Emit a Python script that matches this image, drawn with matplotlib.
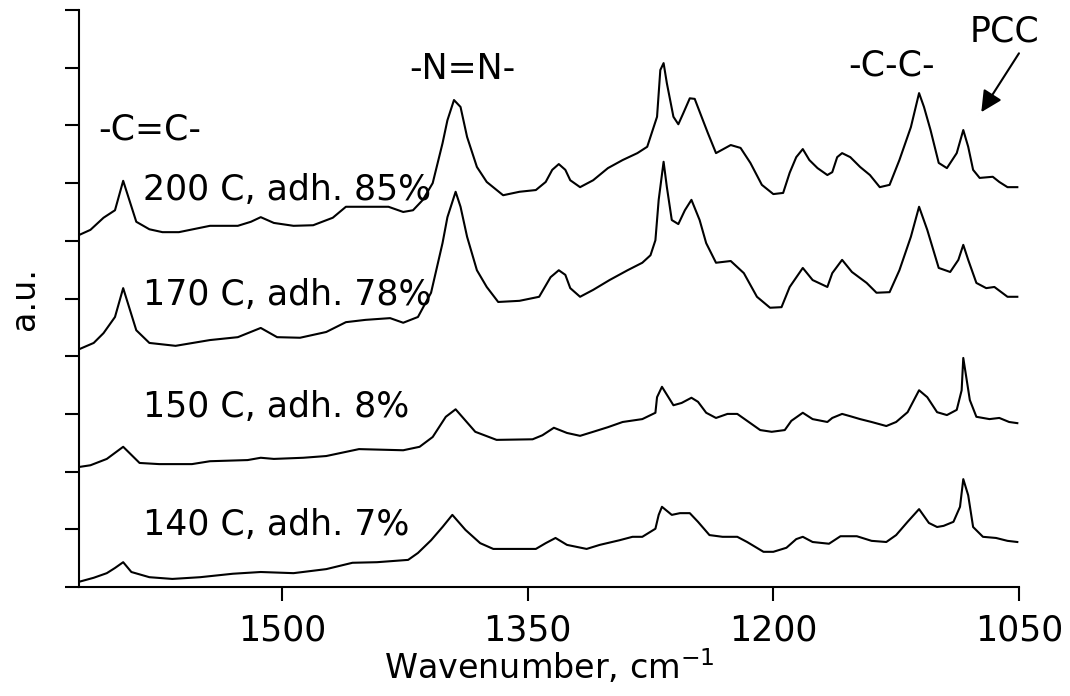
import matplotlib
matplotlib.use("Agg")
import matplotlib.pyplot as plt

plt.rcParams['font.family'] = ['DejaVu Sans']

# Spectra (wavenumber in cm-1, intensity in a.u. with offsets)
wn_200 = [1624, 1617, 1609, 1602, 1597, 1589, 1581, 1573, 1563, 1544, 1527, 1519, 1513, 1505,
          1493, 1481, 1469, 1461, 1449, 1435, 1426, 1420, 1414, 1408, 1402, 1399, 1395, 1391,
          1387, 1381, 1375, 1365, 1355, 1345, 1339, 1335, 1331, 1327, 1324, 1318, 1310, 1301,
          1292, 1283, 1277, 1271, 1269, 1267, 1265, 1261, 1258, 1255, 1251, 1248, 1243, 1240,
          1235, 1226, 1220, 1214, 1207, 1200, 1194, 1190, 1186, 1182, 1178, 1173, 1167, 1164,
          1161, 1158, 1153, 1147, 1141, 1135, 1129, 1123, 1116, 1111, 1108, 1104, 1099, 1094,
          1088, 1084, 1081, 1078, 1074, 1066, 1062, 1057, 1051]
int_200 = [6.10, 6.19, 6.40, 6.53, 7.04, 6.33, 6.20, 6.15, 6.15, 6.26, 6.26, 6.33, 6.41, 6.31,
           6.26, 6.27, 6.40, 6.59, 6.59, 6.59, 6.50, 6.53, 6.71, 7.00, 7.69, 8.09, 8.44, 8.32,
           7.80, 7.28, 7.02, 6.79, 6.85, 6.88, 7.02, 7.23, 7.33, 7.23, 7.05, 6.93, 7.05, 7.26,
           7.40, 7.52, 7.63, 8.15, 8.96, 9.08, 8.73, 8.15, 8.02, 8.21, 8.47, 8.46, 8.09, 7.87,
           7.52, 7.66, 7.61, 7.35, 6.97, 6.81, 6.83, 7.18, 7.45, 7.59, 7.40, 7.26, 7.14, 7.19,
           7.45, 7.52, 7.45, 7.28, 7.14, 6.93, 6.97, 7.40, 7.97, 8.56, 8.32, 7.92, 7.35, 7.26,
           7.52, 7.92, 7.63, 7.23, 7.09, 7.11, 7.02, 6.93, 6.93]

wn_170 = [1624, 1615, 1609, 1602, 1597, 1589, 1581, 1565, 1544, 1527, 1513, 1503, 1489, 1473,
          1461, 1449, 1434, 1426, 1417, 1409, 1402, 1399, 1394, 1391, 1387, 1381, 1375, 1368,
          1355, 1343, 1336, 1331, 1327, 1324, 1318, 1310, 1300, 1289, 1280, 1275, 1272, 1270,
          1267, 1265, 1262, 1258, 1254, 1250, 1245, 1241, 1235, 1226, 1218, 1210, 1202, 1195,
          1190, 1182, 1176, 1167, 1164, 1158, 1152, 1143, 1137, 1129, 1123, 1116, 1111, 1106,
          1099, 1092, 1087, 1084, 1081, 1076, 1070, 1065, 1057, 1051]
int_170 = [4.12, 4.23, 4.40, 4.68, 5.18, 4.45, 4.23, 4.18, 4.28, 4.33, 4.49, 4.33, 4.32, 4.42,
           4.59, 4.63, 4.66, 4.58, 4.68, 5.10, 5.96, 6.41, 6.85, 6.59, 6.07, 5.49, 5.20, 4.94,
           4.96, 5.03, 5.37, 5.49, 5.41, 5.18, 5.03, 5.15, 5.32, 5.49, 5.62, 5.75, 6.01, 6.71,
           7.37, 6.93, 6.36, 6.29, 6.53, 6.71, 6.36, 5.96, 5.62, 5.65, 5.44, 5.03, 4.84, 4.85,
           5.20, 5.53, 5.32, 5.20, 5.44, 5.67, 5.46, 5.27, 5.10, 5.11, 5.49, 6.07, 6.59, 6.19,
           5.53, 5.46, 5.67, 5.93, 5.67, 5.27, 5.18, 5.20, 5.03, 5.03]

wn_150 = [1624, 1617, 1607, 1597, 1587, 1575, 1555, 1544, 1521, 1513, 1505, 1487, 1473, 1453,
          1426, 1416, 1408, 1400, 1394, 1390, 1382, 1369, 1347, 1341, 1334, 1326, 1318, 1310,
          1301, 1292, 1280, 1272, 1271, 1268, 1261, 1256, 1250, 1246, 1241, 1235, 1228, 1222,
          1215, 1208, 1201, 1193, 1189, 1182, 1176, 1167, 1164, 1158, 1153, 1147, 1140, 1131,
          1125, 1118, 1111, 1106, 1100, 1094, 1088, 1085, 1084, 1080, 1076, 1068, 1062, 1056, 1051]
int_150 = [2.08, 2.11, 2.22, 2.43, 2.15, 2.13, 2.13, 2.18, 2.20, 2.24, 2.22, 2.24, 2.27, 2.39,
           2.37, 2.43, 2.60, 2.95, 3.08, 2.95, 2.69, 2.55, 2.56, 2.63, 2.76, 2.67, 2.62, 2.69,
           2.77, 2.86, 2.91, 3.02, 3.29, 3.47, 3.15, 3.19, 3.28, 3.21, 3.02, 2.93, 3.00, 3.00,
           2.86, 2.72, 2.69, 2.72, 2.88, 3.02, 2.91, 2.86, 2.93, 3.00, 2.96, 2.91, 2.86, 2.79,
           2.86, 3.03, 3.41, 3.29, 3.03, 2.98, 3.07, 3.41, 3.97, 3.24, 2.95, 2.91, 2.93, 2.86, 2.84]

wn_140 = [1624, 1615, 1607, 1602, 1597, 1592, 1581, 1567, 1550, 1530, 1513, 1493, 1473, 1457,
          1442, 1423, 1417, 1409, 1402, 1396, 1388, 1379, 1371, 1345, 1339, 1333, 1326, 1314,
          1306, 1294, 1286, 1280, 1272, 1270, 1268, 1262, 1257, 1251, 1246, 1239, 1231, 1222,
          1216, 1206, 1200, 1192, 1186, 1182, 1176, 1166, 1159, 1149, 1140, 1131, 1125, 1118,
          1111, 1105, 1100, 1096, 1090, 1086, 1084, 1081, 1078, 1072, 1064, 1057, 1051]
int_140 = [0.09, 0.16, 0.24, 0.33, 0.43, 0.26, 0.17, 0.14, 0.17, 0.23, 0.26, 0.24, 0.31, 0.42,
           0.43, 0.47, 0.59, 0.81, 1.04, 1.25, 0.99, 0.76, 0.66, 0.66, 0.76, 0.85, 0.73, 0.66,
           0.73, 0.81, 0.87, 0.87, 1.01, 1.25, 1.39, 1.25, 1.28, 1.28, 1.13, 0.90, 0.87, 0.87,
           0.78, 0.61, 0.61, 0.68, 0.83, 0.87, 0.78, 0.75, 0.88, 0.88, 0.80, 0.78, 0.90, 1.13,
           1.35, 1.11, 1.04, 1.06, 1.13, 1.39, 1.87, 1.59, 1.04, 0.87, 0.85, 0.80, 0.78]

spectra = [(wn_200, int_200), (wn_170, int_170), (wn_150, int_150), (wn_140, int_140)]
sample_labels = ["200 C, adh. 85%", "170 C, adh. 78%", "150 C, adh. 8%", "140 C, adh. 7%"]
label_y = [6.71, 4.89, 2.95, 0.90]

band_labels = ["-C=C-", "-N=N-", "-C-C-", "PCC"]
band_x = [1581, 1390, 1128, 1059]
band_y = [7.75, 8.80, 8.87, 9.45]

xticks = [1500, 1350, 1200, 1050]

fig = plt.figure(figsize=(10.7, 6.96), dpi=100)
ax = fig.add_axes([0.0738, 0.1566, 0.8785, 0.829])

for wn, inten in spectra:
    ax.plot(wn, inten, color='black', lw=1.5)

for txt, yy in zip(sample_labels, label_y):
    ax.text(1585, yy, txt, fontsize=25, ha='left', va='baseline')

for txt, xx, yy in zip(band_labels, band_x, band_y):
    ax.text(xx, yy, txt, fontsize=25, ha='center', va='baseline')

# arrow pointing at the PCC band
ax.annotate("", xy=(1073, 8.23), xytext=(1050, 9.25),
            arrowprops=dict(arrowstyle='-|>', color='black', lw=1.5, mutation_scale=32,
                            shrinkA=0, shrinkB=0))

ax.set_xlim(1624, 1050)
ax.set_ylim(0, 10)
ax.set_xticks(xticks)
ax.set_xticklabels([str(t) for t in xticks])
ax.set_yticks(range(11))
ax.set_yticklabels([])

for side in ['top', 'right']:
    ax.spines[side].set_visible(False)
for side in ['left', 'bottom']:
    ax.spines[side].set_linewidth(1.5)

ax.tick_params(axis='both', direction='out', length=10, width=1.5, labelsize=25)
ax.tick_params(axis='x', pad=9)

ax.set_xlabel("Wavenumber, cm$^{-1}$", fontsize=24, labelpad=0)
ax.set_ylabel("a.u.", fontsize=24, labelpad=14)

fig.savefig("out.png", dpi=100)
